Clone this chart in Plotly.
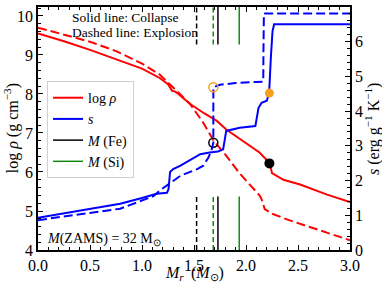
import plotly.graph_objects as go

# ---- data ----
m_rho_col = [0, 0.25, 0.5, 0.75, 1.0, 1.17, 1.25, 1.29, 1.32, 1.35, 1.46, 1.6, 1.72, 1.81, 2.0, 2.13, 2.22, 2.235, 2.25, 2.36, 2.52, 2.78, 3.0]
rho_col = [9.55, 9.35, 9.13, 8.9, 8.65, 8.41, 8.25, 8.08, 8.06, 8.0, 7.75, 7.5, 7.31, 7.09, 6.74, 6.50, 6.25, 6.15, 5.97, 5.80, 5.68, 5.42, 5.23]

m_rho_exp = [0, 0.25, 0.5, 0.75, 1.0, 1.17, 1.3, 1.35, 1.46, 1.58, 1.69, 1.80, 1.94, 2.13, 2.15, 2.18, 2.25, 2.42, 2.71, 3.0]
rho_exp = [9.70, 9.52, 9.34, 9.1, 8.78, 8.5, 8.16, 8.02, 7.75, 7.3, 6.80, 6.45, 5.96, 5.40, 5.30, 5.05, 4.93, 4.76, 4.51, 4.25]

m_s_col = [0, 0.25, 0.5, 0.79, 1.0, 1.14, 1.24, 1.255, 1.27, 1.30, 1.37, 1.56, 1.65, 1.73, 1.78, 1.795, 1.81, 1.94, 2.09, 2.12, 2.15, 2.2, 2.222, 2.24, 2.255, 2.27, 2.5, 3.0]
s_col = [0.93, 1.05, 1.19, 1.33, 1.5, 1.62, 1.65, 1.75, 2.25, 2.33, 2.43, 2.76, 2.81, 2.84, 2.90, 3.2, 3.43, 3.52, 3.57, 4.09, 4.24, 4.30, 4.52, 5.6, 6.3, 6.5, 6.5, 6.5]

m_s_exp = [0, 0.5, 0.79, 1.11, 1.17, 1.24, 1.37, 1.53, 1.59, 1.64, 1.67, 1.686, 1.686, 1.75, 1.9, 2.10, 2.166, 2.168, 2.172, 2.5, 3.0]
s_exp = [0.86, 1.07, 1.19, 1.55, 1.71, 1.86, 2.14, 2.33, 2.43, 2.67, 2.9, 3.09, 4.69, 4.76, 4.81, 4.84, 4.85, 5.8, 6.81, 6.81, 6.81]

# mass coordinates of Fe and Si cores
m_fe_collapse, m_fe_explosion = 1.73, 1.525
m_si_collapse, m_si_explosion = 1.935, 1.685

# markers: (M, log rho) and (M, s)
shock_col_m, shock_col_rho, shock_col_s = 2.225, 6.22, 4.52
shock_exp_m, shock_exp_rho, shock_exp_s = 1.686, 6.75, 4.69

x_ticks = [0.0, 0.5, 1.0, 1.5, 2.0, 2.5, 3.0]

FONT = "Liberation Serif"
RED, BLUE, GREEN, ORANGE = "#ff0000", "#0000ff", "#138a13", "#f5a020"

fig = go.Figure()

fig.add_trace(go.Scatter(x=m_rho_col, y=rho_col, mode="lines", name="log <i>ρ</i>",
                         line=dict(color=RED, width=2), yaxis="y"))
fig.add_trace(go.Scatter(x=m_s_col, y=s_col, mode="lines", name="<i>s</i>",
                         line=dict(color=BLUE, width=2), yaxis="y2"))
fig.add_trace(go.Scatter(x=[None], y=[None], mode="lines", name="<i>M</i> (Fe)",
                         line=dict(color="black", width=1.5), yaxis="y"))
fig.add_trace(go.Scatter(x=[None], y=[None], mode="lines", name="<i>M</i> (Si)",
                         line=dict(color=GREEN, width=1.5), yaxis="y"))
fig.add_trace(go.Scatter(x=m_rho_exp, y=rho_exp, mode="lines", showlegend=False,
                         line=dict(color=RED, width=2, dash="9px,4px"), yaxis="y"))
fig.add_trace(go.Scatter(x=m_s_exp, y=s_exp, mode="lines", showlegend=False,
                         line=dict(color=BLUE, width=2, dash="9px,4px"), yaxis="y2"))

# markers
fig.add_trace(go.Scatter(x=[shock_col_m], y=[shock_col_rho], mode="markers", showlegend=False,
                         marker=dict(color="black", size=10), yaxis="y"))
fig.add_trace(go.Scatter(x=[shock_exp_m], y=[shock_exp_rho], mode="markers", showlegend=False,
                         marker=dict(color="rgba(0,0,0,0)", size=9, line=dict(color="black", width=1.5)), yaxis="y"))
fig.add_trace(go.Scatter(x=[shock_col_m], y=[shock_col_s], mode="markers", showlegend=False,
                         marker=dict(color=ORANGE, size=9), yaxis="y2"))
fig.add_trace(go.Scatter(x=[shock_exp_m], y=[shock_exp_s], mode="markers", showlegend=False,
                         marker=dict(color="rgba(0,0,0,0)", size=9, line=dict(color=ORANGE, width=1.5)), yaxis="y2"))

# vertical core-mass markers (short segments at top and bottom)
shapes = []
for xv, col, dash in [(m_fe_explosion, "black", "5px,3px"), (m_si_explosion, GREEN, "5px,3px"),
                      (m_fe_collapse, "black", "solid"), (m_si_collapse, GREEN, "solid")]:
    for y0, y1 in [(0, 0.22), (0.846, 1)]:
        shapes.append(dict(type="line", xref="x", yref="y domain", x0=xv, x1=xv, y0=y0, y1=y1,
                           line=dict(color=col, width=1.5, dash=dash)))

TF = dict(family=FONT, size=16, color="black")
annotations = [
    dict(text="Solid line: Collapse", xref="paper", yref="paper", x=0.103, y=0.955,
         xanchor="left", yanchor="middle", showarrow=False, font=dict(family=FONT, size=13.5, color="black")),
    dict(text="Dashed line: Explosion", xref="paper", yref="paper", x=0.103, y=0.896,
         xanchor="left", yanchor="middle", showarrow=False, font=dict(family=FONT, size=13.5, color="black")),
    dict(text="<i>M</i>(ZAMS) = 32 M<sub>⊙</sub>", xref="paper", yref="paper", x=0.022, y=0.045,
         xanchor="left", yanchor="middle", showarrow=False, font=dict(family=FONT, size=14, color="black")),
    # axis titles
    dict(text="<i>M<sub>r</sub></i>\u2009 (<i>M</i><sub>⊙</sub>)", xref="paper", yref="paper", x=0.5, y=-0.095,
         xanchor="center", yanchor="middle", showarrow=False, font=TF),
    dict(text="log <i>ρ</i> (g cm<sup>−3</sup>)", xref="paper", yref="paper", x=-0.084, y=0.5,
         xanchor="center", yanchor="middle", textangle=-90, showarrow=False, font=TF),
    dict(text="<i>s</i> (erg g<sup>−1</sup> K<sup>−1</sup>)", xref="paper", yref="paper", x=1.072, y=0.5,
         xanchor="center", yanchor="middle", textangle=-90, showarrow=False, font=TF),
]

axis_common = dict(showline=True, linecolor="black", linewidth=1.5, ticks="inside", ticklen=5,
                   tickwidth=1, tickcolor="black", showgrid=False, zeroline=False,
                   tickfont=dict(family=FONT, size=16, color="black"))

fig.update_layout(
    width=382, height=286,
    margin=dict(l=38, r=32, t=5, b=36),
    paper_bgcolor="white", plot_bgcolor="white",
    font=dict(family=FONT, size=15, color="black"),
    shapes=shapes, annotations=annotations,
    xaxis=dict(range=[0, 3.0], tickvals=x_ticks, ticktext=[f"{v:.1f}" for v in x_ticks],
               mirror="ticks",
               minor=dict(dtick=0.1, ticks="inside", ticklen=3, tickcolor="black"),
               **axis_common),
    yaxis=dict(range=[4, 10.23], dtick=1,
               minor=dict(dtick=0.2, ticks="inside", ticklen=3, tickcolor="black"),
               **axis_common),
    yaxis2=dict(range=[0, 7], dtick=1, overlaying="y", side="right",
                minor=dict(dtick=0.2, ticks="inside", ticklen=3, tickcolor="black"),
                **axis_common),
    legend=dict(x=0.029, y=0.695, xanchor="left", yanchor="top",
                bgcolor="rgba(255,255,255,0.85)", bordercolor="#d0d0d0", borderwidth=1,
                font=dict(family=FONT, size=14), tracegroupgap=0, itemwidth=30),
)

fig.write_html("out.html", config={"displayModeBar": False},
               post_script="document.body.style.margin='0';")
